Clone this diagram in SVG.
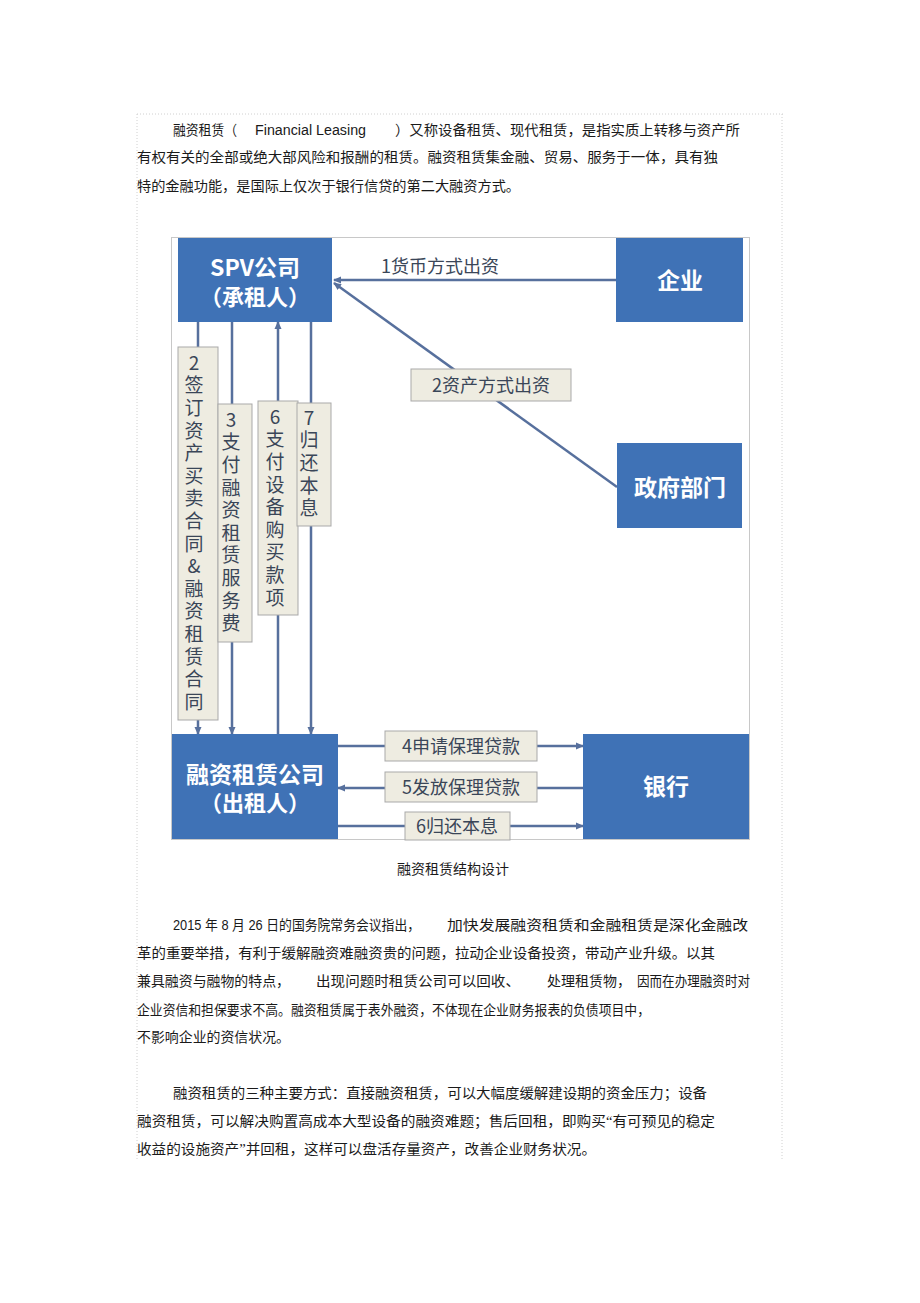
<svg xmlns="http://www.w3.org/2000/svg" width="920" height="1303" viewBox="0 0 920 1303">
<style>
.p{font-family:"Liberation Serif","Noto Sans CJK SC",serif;font-size:14px;fill:#1a1a1a}
.pl{font-family:"Liberation Sans","Noto Sans CJK SC",sans-serif;font-size:14px;fill:#1a1a1a}
.node{fill:#3f72b6}
.nt{font-family:"Noto Sans CJK SC",sans-serif;font-weight:bold;fill:#ffffff;text-anchor:middle}
.lb{fill:#eeece1;stroke:#a9a9a9;stroke-width:1}
.lt{font-family:"Noto Sans CJK SC",sans-serif;font-size:18px;fill:#3a4658;text-anchor:middle}
.vt{font-family:"Noto Sans CJK SC",sans-serif;font-size:19px;fill:#3a4658;writing-mode:vertical-rl;text-orientation:upright;letter-spacing:3.6px}
.cn{stroke:#57709d;stroke-width:2.5;fill:none}
.border{stroke:#d0d0d0;stroke-width:1;stroke-dasharray:1 2;fill:none}
</style>
<defs>
<marker id="ah" markerWidth="8" markerHeight="8" refX="7" refY="4" orient="auto" markerUnits="userSpaceOnUse">
<path d="M0,0.5 L8,4 L0,7.5 Z" fill="#57709d"/>
</marker>
</defs>
<rect width="920" height="1303" fill="#ffffff"/>
<g id="page-border">
<path class="border" d="M137,114 H783 M137,114 V1160 M782,114 V1160"/>
</g>
<g id="para1">
<text class="p" x="173" y="135" textLength="64" lengthAdjust="spacingAndGlyphs">融资租赁（</text>
<text class="pl" x="255" y="135" textLength="111" lengthAdjust="spacingAndGlyphs">Financial Leasing</text>
<text class="p" x="395" y="135" textLength="345" lengthAdjust="spacingAndGlyphs">）又称设备租赁、现代租赁，是指实质上转移与资产所</text>
<text class="p" x="137" y="162" textLength="581" lengthAdjust="spacingAndGlyphs">有权有关的全部或绝大部风险和报酬的租赁。融资租赁集金融、贸易、服务于一体，具有独</text>
<text class="p" x="137" y="191" textLength="383" lengthAdjust="spacingAndGlyphs">特的金融功能，是国际上仅次于银行信贷的第二大融资方式。</text>
</g>
<g id="frame">
<rect x="171.5" y="237.5" width="578" height="602" fill="none" stroke="#c8c8c8" stroke-width="1"/>
</g>
<g id="connectors">
<line class="cn" x1="616" y1="280" x2="334" y2="280" marker-end="url(#ah)"/>
<line class="cn" x1="617" y1="487" x2="334" y2="283" marker-end="url(#ah)"/>
<line class="cn" x1="198" y1="322" x2="198" y2="734" marker-end="url(#ah)"/>
<line class="cn" x1="232" y1="322" x2="232" y2="734" marker-end="url(#ah)"/>
<line class="cn" x1="278" y1="734" x2="278" y2="322" marker-end="url(#ah)"/>
<line class="cn" x1="311" y1="322" x2="311" y2="734" marker-end="url(#ah)"/>
<line class="cn" x1="338" y1="746" x2="583" y2="746" marker-end="url(#ah)"/>
<line class="cn" x1="583" y1="788" x2="338" y2="788" marker-end="url(#ah)"/>
<line class="cn" x1="338" y1="826" x2="583" y2="826" marker-end="url(#ah)"/>
</g>
<g id="label1">
<text class="lt" x="440" y="273" font-size="19">1货币方式出资</text>
</g>
<g id="label2">
<rect class="lb" x="411" y="369" width="160" height="32"/>
<text class="lt" x="491" y="392">2资产方式出资</text>
</g>
<g id="label-v2">
<rect class="lb" x="178" y="347" width="40" height="373"/>
<text class="vt" x="194" y="353">2签订资产买卖合同&amp;融资租赁合同</text>
</g>
<g id="label-v3">
<rect class="lb" x="218" y="404" width="34" height="238"/>
<text class="vt" x="231" y="410">3支付融资租赁服务费</text>
</g>
<g id="label-v6">
<rect class="lb" x="258" y="401" width="40" height="214"/>
<text class="vt" x="275" y="407">6支付设备购买款项</text>
</g>
<g id="label-v7">
<rect class="lb" x="297" y="403" width="34" height="123"/>
<text class="vt" x="309" y="408">7归还本息</text>
</g>
<g id="label4">
<rect class="lb" x="385" y="731" width="152" height="30"/>
<text class="lt" x="461" y="753">4申请保理贷款</text>
</g>
<g id="label5">
<rect class="lb" x="385" y="772" width="152" height="30"/>
<text class="lt" x="461" y="794">5发放保理贷款</text>
</g>
<g id="label6">
<rect class="lb" x="405" y="812" width="105" height="28"/>
<text class="lt" x="457" y="833">6归还本息</text>
</g>
<g id="node-spv">
<rect class="node" x="178" y="238" width="154" height="84"/>
<text class="nt" font-size="22"><tspan x="255" y="276" font-size="23">SPV公司</tspan><tspan x="255" y="305">（承租人）</tspan></text>
</g>
<g id="node-qiye">
<rect class="node" x="616" y="238" width="127" height="84"/>
<text class="nt" x="680" y="289" font-size="23">企业</text>
</g>
<g id="node-zhengfu">
<rect class="node" x="617" y="443" width="125" height="85"/>
<text class="nt" x="680" y="496" font-size="23">政府部门</text>
</g>
<g id="node-rongzi">
<rect class="node" x="172" y="734" width="166" height="105"/>
<text class="nt" font-size="22"><tspan x="255" y="783" font-size="23">融资租赁公司</tspan><tspan x="255" y="811">（出租人）</tspan></text>
</g>
<g id="node-bank">
<rect class="node" x="583" y="734" width="166" height="105"/>
<text class="nt" x="666" y="795" font-size="23">银行</text>
</g>
<g id="caption">
<text class="p" x="453" y="874" text-anchor="middle">融资租赁结构设计</text>
</g>
<g id="para2">
<text class="pl" x="173" y="930" textLength="247" lengthAdjust="spacingAndGlyphs">2015 年 8 月 26 日的国务院常务会议指出，</text>
<text class="p" x="447" y="930" textLength="301" lengthAdjust="spacingAndGlyphs">加快发展融资租赁和金融租赁是深化金融改</text>
<text class="p" x="137" y="958" textLength="578" lengthAdjust="spacingAndGlyphs">革的重要举措，有利于缓解融资难融资贵的问题，拉动企业设备投资，带动产业升级。以其</text>
<text class="p" x="137" y="986" textLength="153" lengthAdjust="spacingAndGlyphs">兼具融资与融物的特点，</text>
<text class="p" x="316" y="986" textLength="204" lengthAdjust="spacingAndGlyphs">出现问题时租赁公司可以回收、</text>
<text class="p" x="547" y="986" textLength="84" lengthAdjust="spacingAndGlyphs">处理租赁物，</text>
<text class="p" x="637" y="986" textLength="113" lengthAdjust="spacingAndGlyphs">因而在办理融资时对</text>
<text class="p" x="137" y="1015" textLength="513" lengthAdjust="spacingAndGlyphs">企业资信和担保要求不高。融资租赁属于表外融资，不体现在企业财务报表的负债项目中，</text>
<text class="p" x="137" y="1042" textLength="153" lengthAdjust="spacingAndGlyphs">不影响企业的资信状况。</text>
</g>
<g id="para3">
<text class="p" x="173" y="1098" textLength="534" lengthAdjust="spacingAndGlyphs">融资租赁的三种主要方式：直接融资租赁，可以大幅度缓解建设期的资金压力；设备</text>
<text class="p" x="137" y="1126" textLength="578" lengthAdjust="spacingAndGlyphs">融资租赁，可以解决购置高成本大型设备的融资难题；售后回租，即购买“有可预见的稳定</text>
<text class="p" x="137" y="1154" textLength="459" lengthAdjust="spacingAndGlyphs">收益的设施资产”并回租，这样可以盘活存量资产，改善企业财务状况。</text>
</g>
</svg>
